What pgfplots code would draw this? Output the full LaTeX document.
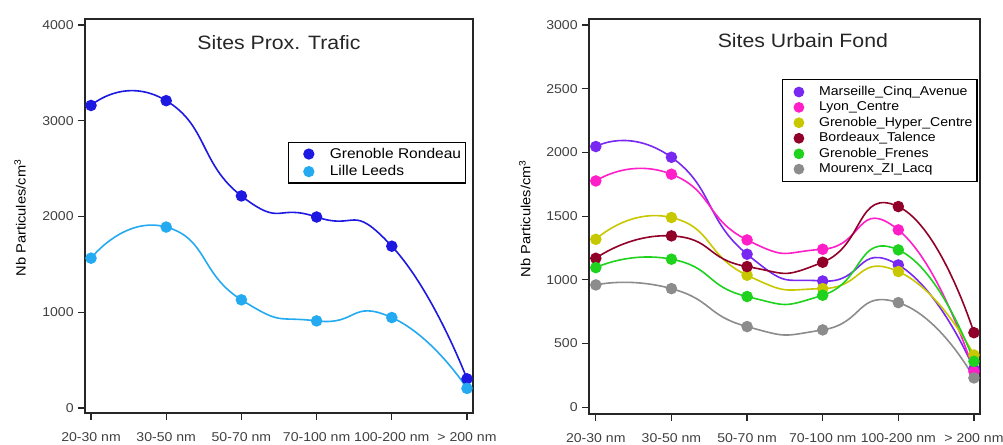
\documentclass[border=0pt]{standalone}
\usepackage{fontspec}
\setmainfont{Liberation Sans}[FakeStretch=1.1]
\usepackage{pgfplots}
\pgfplotsset{compat=1.18}

\definecolor{cRond}{RGB}{30,25,225}
\definecolor{cLille}{RGB}{35,170,240}
\definecolor{cMars}{RGB}{120,40,240}
\definecolor{cLyon}{RGB}{255,30,200}
\definecolor{cGHC}{RGB}{200,200,0}
\definecolor{cBord}{RGB}{145,0,40}
\definecolor{cFren}{RGB}{30,210,30}
\definecolor{cMour}{RGB}{140,140,140}

\pgfplotsset{
  igor/.style={
    scale only axis,
    axis line style={line width=1pt, black!85},
    tick align=outside, xtick pos=bottom, ytick pos=left,
    major tick length=5pt,
    tick style={line width=0.9pt, black!85},
    xtick={0,1,2,3,4,5},
    xticklabels={20-30 nm,30-50 nm,50-70 nm,70-100 nm,100-200 nm,> 200 nm},
    tick label style={font=\fontsize{9.6}{11}\selectfont, text=black!75},
    xticklabel style={yshift=-6.5pt},
    /pgf/number format/assume math mode=true,
    /pgf/number format/1000 sep={},
    scaled y ticks=false,
    clip=false,
    every axis plot/.append style={smooth, tension=1, line width=1.2pt, mark=*, mark size=3.7pt},
    legend cell align=left,
    ylabel={Nb Particules/cm\textsuperscript{3}},
    ylabel style={font=\fontsize{9.5}{11}\selectfont, text=black!70},
    title style={font=\fontsize{14.5}{16}\selectfont, text=black!85, anchor=center, yshift=0pt},
  }
}

\begin{document}
\begin{tikzpicture}[x=1pt,y=1pt]
\path[use as bounding box] (0,0) rectangle (752.25,333);

\begin{axis}[igor,
  at={(63.75pt,23.25pt)}, anchor=south west,
  width=291pt, height=295.5pt,
  xmin=-0.08, xmax=5.08, ymin=-52, ymax=4063,
  ytick={0,1000,2000,3000,4000},
  title={Sites Prox. Trafic}, title style={at={(axis description cs:0.5,0.919)}},
  every axis y label/.style={at={(axis description cs:-0.1675,0.495)}, rotate=90, anchor=center},
  legend image code/.code={\path (0cm,0cm) (0.92cm,0cm); \fill[#1] (0.46cm,0cm) circle (3.6pt);},
  legend style={at={(axis description cs:0.523,0.688)}, anchor=north west,
    draw=black, line width=1pt, font=\fontsize{10.6}{12}\selectfont,
    inner xsep=1.5pt, inner ysep=2pt, row sep=0pt},
]
\addplot[color=cRond] coordinates {(0,3160) (1,3210) (2,2215) (3,1995) (4,1690) (5,305)};
\addlegendentry{Grenoble Rondeau}
\addplot[color=cLille] coordinates {(0,1565) (1,1890) (2,1130) (3,910) (4,945) (5,205)};
\addlegendentry{Lille Leeds}
\end{axis}

\begin{axis}[igor,
  at={(441.75pt,22.5pt)}, anchor=south west,
  width=293.25pt, height=296.25pt,
  xmin=-0.09, xmax=5.08, ymin=-53, ymax=3047,
  ytick={0,500,1000,1500,2000,2500,3000},
  title={Sites Urbain Fond}, title style={at={(axis description cs:0.547,0.924)}},
  every axis y label/.style={at={(axis description cs:-0.164,0.495)}, rotate=90, anchor=center},
  legend image code/.code={\path (0cm,0cm) (0.79cm,0cm); \fill[#1] (0.35cm,0cm) circle (3.4pt);},
  legend style={at={(axis description cs:0.494,0.848)}, anchor=north west,
    draw=black, line width=1pt, font=\fontsize{9.6}{11}\selectfont,
    inner xsep=1.5pt, inner ysep=3pt, row sep=-0.8pt},
]
\addplot[color=cMars] coordinates {(0,2046) (1,1962) (2,1201) (3,991) (4,1117) (5,300)};
\addlegendentry{Marseille\_Cinq\_Avenue}
\addplot[color=cLyon] coordinates {(0,1776) (1,1829) (2,1313) (3,1240) (4,1392) (5,280)};
\addlegendentry{Lyon\_Centre}
\addplot[color=cGHC] coordinates {(0,1318) (1,1489) (2,1036) (3,931) (4,1065) (5,410)};
\addlegendentry{Grenoble\_Hyper\_Centre}
\addplot[color=cBord] coordinates {(0,1169) (1,1345) (2,1104) (3,1138) (4,1575) (5,585)};
\addlegendentry{Bordeaux\_Talence}
\addplot[color=cFren] coordinates {(0,1096) (1,1162) (2,869) (3,879) (4,1235) (5,360)};
\addlegendentry{Grenoble\_Frenes}
\addplot[color=cMour] coordinates {(0,960) (1,931) (2,633) (3,607) (4,821) (5,230)};
\addlegendentry{Mourenx\_ZI\_Lacq}
\end{axis}
\end{tikzpicture}
\end{document}
